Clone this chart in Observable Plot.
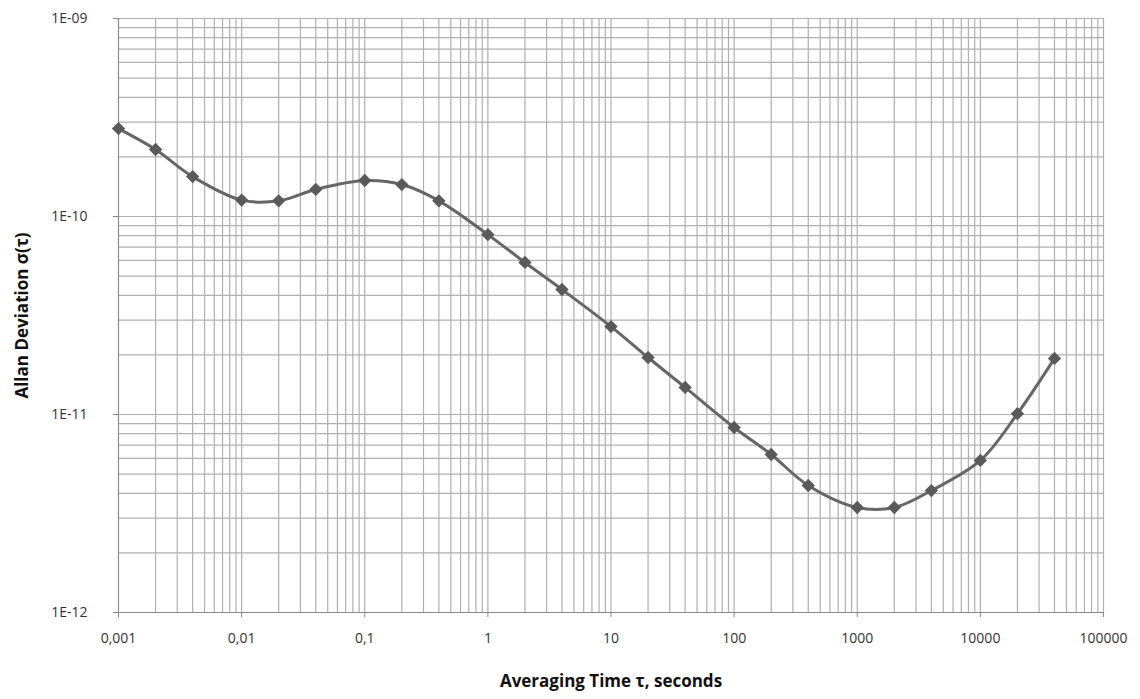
<!DOCTYPE html>
<html>
<head>
<meta charset="utf-8">
<script src="https://cdn.jsdelivr.net/npm/d3@7"></script>
<script src="https://cdn.jsdelivr.net/npm/@observablehq/plot@0.6"></script>
<style>
  body { margin: 0; background: #fff; }
</style>
</head>
<body>
<div id="chart"></div>
<script>
const tau = [0.001, 0.002, 0.004, 0.01, 0.02, 0.04, 0.1, 0.2, 0.4, 1, 2, 4, 10, 20, 40, 100, 200, 400, 1000, 2000, 4000, 10000, 20000, 40000];
const adev = [2.78e-10, 2.18e-10, 1.59e-10, 1.21e-10, 1.2e-10, 1.37e-10, 1.52e-10, 1.45e-10, 1.2e-10, 8.1e-11, 5.86e-11, 4.28e-11, 2.78e-11, 1.94e-11, 1.37e-11, 8.6e-12, 6.28e-12, 4.38e-12, 3.39e-12, 3.39e-12, 4.13e-12, 5.86e-12, 1.01e-11, 1.92e-11];
const xTicks = [0.001, 0.01, 0.1, 1, 10, 100, 1000, 10000, 100000];
const xTickLabels = ["0,001", "0,01", "0,1", "1", "10", "100", "1000", "10000", "100000"];
const yTicks = [1e-12, 1e-11, 1e-10, 1e-9];
const yTickLabels = ["1E-12", "1E-11", "1E-10", "1E-09"];
const xTitle = "Averaging Time τ, seconds";
const yTitle = "Allan Deviation σ(τ)";

const data = tau.map((t, i) => ({tau: t, adev: adev[i]}));

// minor gridlines (1..9 × each decade)
const xGrid = [];
for (let e = -3; e <= 5; e++) for (let m = 1; m <= 9; m++) { const v = m * Math.pow(10, e); if (v <= 100000 * 1.0001) xGrid.push(v); }
const yGrid = [];
for (let e = -12; e <= -9; e++) for (let m = 1; m <= 9; m++) { const v = m * Math.pow(10, e); if (v <= 1e-9 * 1.0001) yGrid.push(v); }

const chart = Plot.plot({
  width: 1140,
  height: 699,
  marginLeft: 118,
  marginRight: 37,
  marginTop: 18,
  marginBottom: 87,
  style: {fontFamily: "'Open Sans', 'Liberation Sans', sans-serif", fontSize: "14px", color: "#333"},
  x: {type: "log", domain: [0.001, 100000]},
  y: {type: "log", domain: [1e-12, 1e-9]},
  marks: [
    Plot.ruleX(xGrid, {x: d => d, stroke: "#b0b0b0", strokeWidth: 1.2, strokeOpacity: 1}),
    Plot.ruleY(yGrid, {y: d => d, stroke: "#b0b0b0", strokeWidth: 1.2, strokeOpacity: 1}),
    Plot.axisX({
      ticks: xTicks,
      tickFormat: d => xTickLabels[xTicks.findIndex(t => Math.abs(Math.log10(t) - Math.log10(d)) < 1e-6)],
      tickSize: 5, tickPadding: 16, stroke: "#888",
      label: xTitle, labelAnchor: "center", labelArrow: "none",
      labelOffset: 74
    }),
    Plot.axisY({
      ticks: yTicks,
      tickFormat: d => yTickLabels[yTicks.findIndex(t => Math.abs(Math.log10(t) - Math.log10(d)) < 1e-6)],
      tickSize: 5, tickPadding: 26, stroke: "#888",
      label: yTitle, labelAnchor: "center", labelArrow: "none",
      labelOffset: 103
    }),
    Plot.ruleX([0.001], {stroke: "#888"}),
    Plot.ruleY([1e-12], {stroke: "#888"}),
    Plot.line(data, {x: "tau", y: "adev", stroke: "#666", strokeWidth: 3, curve: "catmull-rom"}),
    Plot.dot(data, {x: "tau", y: "adev", symbol: "diamond2", r: 6, fill: "#5a5a5a", stroke: "none"})
  ]
});
document.getElementById("chart").appendChild(chart);
chart.querySelectorAll("text").forEach(t => {
  const s = t.textContent.trim();
  if (s === xTitle || s === yTitle) {
    t.style.fontSize = "17px";
    t.style.fontWeight = "bold";
    t.style.fill = "#111";
  } else if (xTickLabels.includes(s) || yTickLabels.includes(s)) {
    t.style.fill = "#333";
  }
});
</script>
</body>
</html>
